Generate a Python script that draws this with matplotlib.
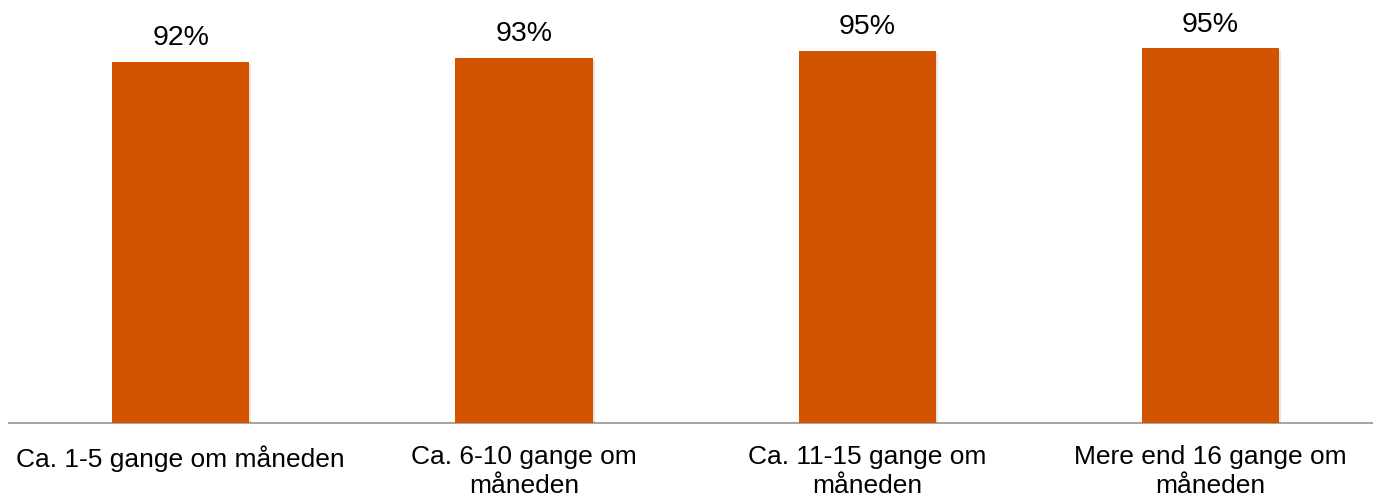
import matplotlib
matplotlib.use("Agg")
import matplotlib.pyplot as plt
import matplotlib.patheffects as pe

categories = [
    "Ca. 1-5 gange om måneden",
    "Ca. 6-10 gange om\nmåneden",
    "Ca. 11-15 gange om\nmåneden",
    "Mere end 16 gange om\nmåneden",
]
values = [0.92, 0.931, 0.949, 0.955]
value_labels = ["92%", "93%", "95%", "95%"]

plt.rcParams["font.family"] = ["Liberation Sans", "DejaVu Sans"]

W, H = 1373, 496
fig = plt.figure(figsize=(W / 100, H / 100), dpi=100)
# axes placed in pixel terms so the bars land where the original has them
ax = fig.add_axes([9 / W, 73 / H, 1364 / W, 392.4 / H])

x = list(range(len(categories)))
bars = ax.bar(x, values, width=0.4, color="#D35400", zorder=3)
for b in bars:
    b.set_path_effects([pe.SimplePatchShadow(offset=(1.5, -1.5), shadow_rgbFace="#000000", alpha=0.1),
                        pe.Normal()])

for xi, v, lab in zip(x, values, value_labels):
    ax.annotate(lab, (xi, v), xytext=(0, 12), textcoords="offset points",
                ha="center", va="baseline", fontsize=20.5, color="#000000")

ax.set_xlim(-0.5, 1364 / 343.3 - 0.5)
ax.set_ylim(0, 1)
ax.set_xticks(x)
ax.set_xticklabels(categories, fontsize=19, linespacing=1.25)
ax.tick_params(axis="x", length=0, pad=16)
ax.set_yticks([])
for side in ("top", "right", "left"):
    ax.spines[side].set_visible(False)
ax.spines["bottom"].set_color("#A6A6A6")
ax.spines["bottom"].set_linewidth(1.5)

fig.savefig("out.png", dpi=100)
